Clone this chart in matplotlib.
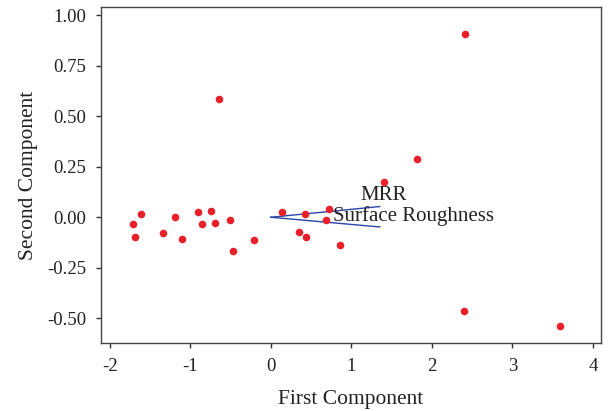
import matplotlib.pyplot as plt
import numpy as np

# scores on the first two components
first = [2.41, -0.647, 1.81, 1.40, -1.71, -1.608, -1.69, -1.335, -1.19, -1.10,
         -0.907, -0.858, -0.75, -0.70, -0.51, -0.47, -0.215, 0.133, 0.423, 0.353,
         0.44, 0.718, 0.684, 0.858, 2.397, 3.59]
second = [0.907, 0.585, 0.29, 0.176, -0.033, 0.018, -0.100, -0.076, 0.002, -0.107,
          0.025, -0.033, 0.033, -0.026, -0.016, -0.166, -0.114, 0.025, 0.018, -0.071,
          -0.099, 0.043, -0.016, -0.135, -0.466, -0.537]

# loading vectors
load_names = ['MRR', 'Surface Roughness']
load_x = [1.352, 1.352]
load_y = [0.053, -0.048]
label_x = [1.40, 0.776]
label_y = [0.108, 0.008]

plt.rcParams['font.family'] = 'Liberation Serif'

fig = plt.figure(figsize=(6.08, 4.11), dpi=100)
ax = fig.add_axes([101/608, 1-343/411, 500/608, 336/411])

ax.scatter(first, second, s=30, color='#E8202A', zorder=3, linewidths=0)
for lx, ly in zip(load_x, load_y):
    ax.plot([0, lx], [0, ly], color='#2A45A8', lw=1.0, zorder=2)

ax.text(label_x[0], label_y[0], load_names[0], fontsize=15, ha='center', va='center', color='#222222', zorder=4)
ax.text(label_x[1], label_y[1], load_names[1], fontsize=15, ha='left', va='center', color='#222222', zorder=4)

ax.set_xlim(-2.11, 4.10)
ax.set_ylim(-0.622, 1.04)
ax.set_xticks([-2, -1, 0, 1, 2, 3, 4])
ax.set_yticks([-0.5, -0.25, 0, 0.25, 0.5, 0.75, 1.0])
ax.set_yticklabels(['-0.50', '-0.25', '0.00', '0.25', '0.50', '0.75', '1.00'])
ax.set_xticklabels(['-2', '-1', '0', '1', '2', '3', '4'])
ax.tick_params(direction='out', length=3.5, width=1, labelsize=13.5, colors='#333333', labelcolor='#222222')
ax.tick_params(axis='x', pad=7)
ax.tick_params(axis='y', pad=7)
for sp in ax.spines.values():
    sp.set_color('#444444')
    sp.set_linewidth(1.0)

ax.set_xlabel('First Component', fontsize=15.5, color='#222222', labelpad=11)
ax.set_ylabel('Second Component', fontsize=15.5, color='#222222', labelpad=7)

fig.savefig('out.png', dpi=100)
